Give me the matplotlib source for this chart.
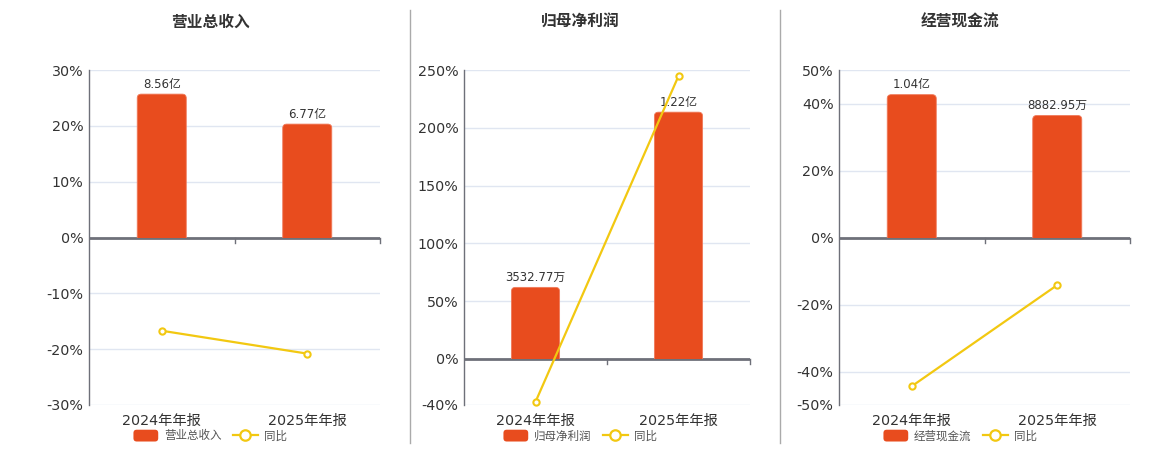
import matplotlib
matplotlib.use("Agg")
import matplotlib.pyplot as plt
from matplotlib.patches import FancyBboxPatch, Rectangle, Patch
from matplotlib.lines import Line2D
from matplotlib.legend_handler import HandlerPatch

plt.rcParams['font.family'] = ['DejaVu Sans', 'Noto Sans CJK SC']

# ---- data ----
categories = ["2024年年报", "2025年年报"]
titles = ["营业总收入", "归母净利润", "经营现金流"]
bar_values = [[8.56, 6.77], [0.353277, 1.22], [1.04, 0.888295]]   # 亿
bar_labels = [["8.56亿", "6.77亿"], ["3532.77万", "1.22亿"], ["1.04亿", "8882.95万"]]
yoy_values = [[-16.7, -20.8], [-37.3, 244.8], [-44.4, -14.2]]     # %
y_ticks = [[-30, -20, -10, 0, 10, 20, 30],
           [-40, 0, 50, 100, 150, 200, 250],
           [-50, -40, -20, 0, 20, 40, 50]]
y_lims = [(-30, 30), (-40, 250), (-50, 50)]
pct_per_unit = [3.0, 175.0, 41.0]   # scale of the hidden bar axis

BAR_C = "#E84C1E"
LINE_C = "#F2C811"
AXIS_C = "#6E7079"
GRID_C = "#E0E6F1"
TEXT_C = "#333333"

W, H = 1160, 450
fig = plt.figure(figsize=(W / 100, H / 100), dpi=100)

axes_px = [(89, 380), (464, 750), (839, 1130)]
top_px, bot_px = 70, 405
title_x = [210, 580, 960]
legend_x = [210, 580, 960]


class RoundHandler(HandlerPatch):
    def create_artists(self, legend, orig_handle, xdescent, ydescent, width, height,
                       fontsize, trans):
        p = FancyBboxPatch((-xdescent, -ydescent), width, height,
                           boxstyle=f"round,pad=0,rounding_size={height * 0.28}",
                           facecolor=orig_handle.get_facecolor(), edgecolor='none',
                           transform=trans)
        return [p]


for i in range(3):
    l, r = axes_px[i]
    ax = fig.add_axes([l / W, (H - bot_px) / H, (r - l) / W, (bot_px - top_px) / H])
    lo, hi = y_lims[i]
    ax.set_ylim(lo, hi)
    ax.set_xlim(-0.5, 1.5)
    ax.set_yticks(y_ticks[i])
    ax.set_yticklabels([f"{t}%" for t in y_ticks[i]])
    ax.tick_params(axis='y', length=0, labelsize=10.3, labelcolor=TEXT_C, pad=4)
    ax.set_xticks([])
    for t in y_ticks[i]:
        ax.axhline(t, color=GRID_C, lw=1, zorder=0)
    for s in ['top', 'right', 'bottom']:
        ax.spines[s].set_visible(False)
    ax.spines['left'].set_color(AXIS_C)
    ax.spines['left'].set_linewidth(1)
    ax.patch.set_alpha(0)

    # bar axis
    bx = ax.twinx()
    k = pct_per_unit[i]
    bx.set_ylim(lo / k, hi / k)
    bx.set_xlim(-0.5, 1.5)
    bx.axis('off')
    bw = 0.337
    bars = bx.bar(range(len(categories)), bar_values[i], width=bw, color=BAR_C)
    ax_h_px = bot_px - top_px
    ax_w_px = r - l
    y_per_px = (hi - lo) / k / ax_h_px
    x_per_px = 2.0 / ax_w_px
    rad_px = 4.0
    for b in bars:
        x0, w, h = b.get_x(), b.get_width(), b.get_height()
        b.remove()
        ry = rad_px * y_per_px
        p = FancyBboxPatch((x0, -ry), w, h + ry,
                           boxstyle=f"round,pad=0,rounding_size={rad_px * x_per_px}",
                           mutation_aspect=y_per_px / x_per_px,
                           facecolor=BAR_C, edgecolor="#F07A5A", lw=0.6, zorder=2)
        bx.add_patch(p)
        clip = Rectangle((x0 - 0.1, 0), w + 0.2, h * 2 + 10, transform=bx.transData)
        p.set_clip_path(clip)
    for j, v in enumerate(bar_values[i]):
        bx.annotate(bar_labels[i][j], (j, v), xytext=(0, 2.5), textcoords='offset points',
                    ha='center', va='bottom', fontsize=8.5, color=TEXT_C, zorder=5)

    # zero axis line with ticks
    ax.axhline(0, color=AXIS_C, lw=2, zorder=3)
    ypx0 = ax.transData.transform((0, 0))[1]
    for xb in [0.5, 1.5]:
        xd = ax.transData.transform((xb, 0))[0]
        fig.add_artist(Line2D([xd / W, xd / W], [(ypx0 - 5) / H, ypx0 / H],
                              color=AXIS_C, lw=1))

    # line on top
    lx = bx.twinx()
    lx.set_ylim(lo, hi)
    lx.set_xlim(-0.5, 1.5)
    lx.axis('off')
    lx.plot(range(len(categories)), yoy_values[i], color=LINE_C, lw=1.6,
            marker='o', ms=4.5, mfc='white', mec=LINE_C, mew=1.5, zorder=6, clip_on=False)

    # category labels
    for j, c in enumerate(categories):
        xd = ax.transData.transform((j, 0))[0]
        fig.text(xd / W, 1 - 421 / H, c, ha='center', va='center', fontsize=10.3,
                 color=TEXT_C)

    # title
    fig.text(title_x[i] / W, 1 - 22 / H, titles[i], ha='center', va='center',
             fontsize=11.3, fontweight='bold', color=TEXT_C)

    # legend
    bar_handle = Patch(facecolor=BAR_C, edgecolor=BAR_C, label=titles[i])
    line_handle = Line2D([0], [0], color=LINE_C, lw=1.6, marker='o', ms=7.5, mfc='white',
                         mec=LINE_C, mew=1.6, label="同比")
    fig.legend(handles=[bar_handle, line_handle], loc='center',
               bbox_to_anchor=(legend_x[i] / W, 1 - 436 / H),
               ncol=2, frameon=False, fontsize=8.3, labelcolor="#555555",
               handlelength=2.15, handleheight=1.2, handletextpad=0.5, columnspacing=1.0,
               borderpad=0, handler_map={Patch: RoundHandler()})

# separators
for xs in [410, 780]:
    fig.add_artist(Line2D([xs / W, xs / W], [1 - 443 / H, 1 - 10 / H], color="#AAAAAA", lw=1))

fig.savefig("out.png", dpi=100, facecolor='white')
